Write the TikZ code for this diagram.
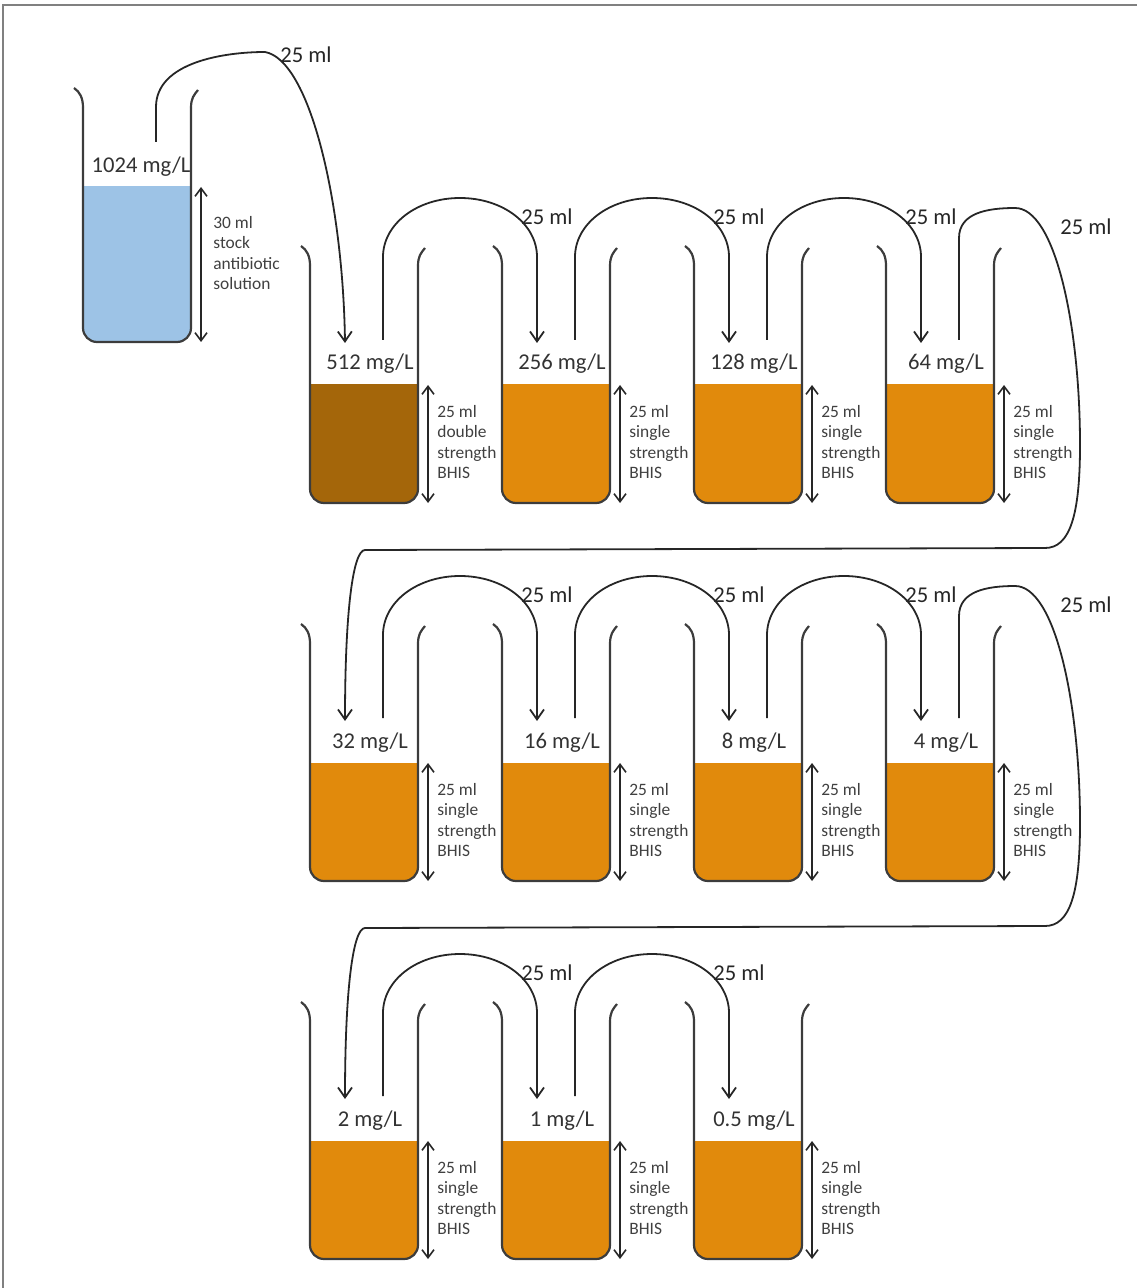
\documentclass[tikz,border=0pt]{standalone}
\usepackage{fontspec}
\setmainfont{Carlito}
\usetikzlibrary{arrows.meta,calc}
\definecolor{stockblue}{RGB}{157,195,230}
\definecolor{brothbrown}{RGB}{164,102,10}
\definecolor{brothorange}{RGB}{225,138,12}
\definecolor{glass}{RGB}{60,60,60}
\definecolor{framegray}{RGB}{128,128,128}
\tikzset{
  glasswall/.style={draw=glass,line width=1.1pt,rounded corners=7pt},
  glasslip/.style={draw=glass,line width=1.1pt},
  pipe/.style={draw=black!85,line width=0.9pt},
  drop/.style={pipe,-{Straight Barb[length=5pt,width=7pt]}},
  vol/.style={draw=black!85,line width=0.8pt,{Straight Barb[length=4pt,width=6pt]}-{Straight Barb[length=4pt,width=6pt]}},
  conc/.style={font=\fontsize{11.3}{13}\selectfont,text=black!80,anchor=base,inner sep=0pt},
  amount/.style={font=\fontsize{11.3}{13}\selectfont,text=black!85,inner sep=0pt},
  recipe/.style={font=\fontsize{8.7}{10.25}\selectfont,text=black!75,align=left,anchor=north west,inner sep=0pt}
}
% beaker: name, left wall, wall top, liquid top, bottom, colour
\newcommand{\beaker}[6]{%
  \begin{scope}
    \clip (#2-2,#4) rectangle (#2+110,#5+2);
    \fill[#6,rounded corners=7pt] (#2,#3) -- (#2,#5) -- (#2+108,#5) -- (#2+108,#3) -- cycle;
  \end{scope}
  \draw[glasswall] (#2,#3) -- (#2,#5) -- (#2+108,#5) -- (#2+108,#3);
  \draw[glasslip] (#2-9,#3-20) .. controls +(6,4) and +(0,-10) .. (#2,#3);
  \draw[glasslip] (#2+108,#3) .. controls +(0,-10) and +(-4,5) .. (#2+115,#3-18);
  \coordinate (#1-tube) at (#2+73,#4-45);
  \coordinate (#1-drop) at (#2+35,#4-42);
  \draw[vol] (#2+118,#4) -- (#2+118,#5);
}
\begin{document}
\begin{tikzpicture}[x=0.5pt,y=-0.5pt]
\useasboundingbox (0,0) rectangle (1137,1288);
\draw[framegray,line width=1.2pt] (3,1288) -- (3,5) -- (1137,5);

% stock solution
\beaker{s}{83}{108}{187}{342}{stockblue}
\node[conc] (c-s) at (141,173) {1024 mg/L};
\node[recipe] (r-s) at (213,216) {30 ml\\stock\\antibiotic\\solution};

% dilution series
\foreach \nm/\col/\row/\conc/\liq/\kind in {b1/0/0/512/brothbrown/double,
    b2/1/0/256/brothorange/single, b3/2/0/128/brothorange/single, b4/3/0/64/brothorange/single,
    b5/0/1/32/brothorange/single, b6/1/1/16/brothorange/single, b7/2/1/8/brothorange/single,
    b8/3/1/4/brothorange/single, b9/0/2/2/brothorange/single, b10/1/2/1/brothorange/single,
    b11/2/2/0.5/brothorange/single} {
  \pgfmathsetmacro\xl{310+192*\col}
  \pgfmathsetmacro\yt{266+378*\row}
  \pgfmathsetmacro\yl{385+378*\row}
  \pgfmathsetmacro\yb{503+378*\row}
  \beaker{\nm}{\xl}{\yt}{\yl}{\yb}{\liq}
  \node[conc] (c-\nm) at (\xl+60,\yl-15) {\conc\ mg/L};
  \node[recipe] (r-\nm) at (\xl+127,\yl+20) {25 ml\\\kind\\strength\\BHIS};
}

% transfers
\draw[drop] (s-tube) -- ++(0,-35) .. controls +(0,-45) and +(-40,0) .. (265,52)
  .. controls +(45,8) and +(-2,-140) .. (b1-drop);
\node[amount] (v-s) at (306,55) {25 ml};
\foreach \a/\b in {b1/b2,b2/b3,b3/b4,b5/b6,b6/b7,b7/b8,b9/b10,b10/b11} {
  \draw[drop] (\a-tube) -- ++(0,-83) .. controls +(0,-33) and +(-43,0) .. ++(77,-59)
    .. controls +(43,0) and +(0,-33) .. ++(77,59) -- (\b-drop);
  \node[amount] (v-\a) at ($(\a-tube)+(164,-123)$) {25 ml};
}
\foreach \a/\b/\r in {b4/b5/0,b8/b9/1} {
  \draw[drop] (\a-tube) -- ++(0,-102) .. controls +(0,-25) and +(-28,0) .. (1015,208+378*\r)
    .. controls +(40,0) and +(0,-120) .. (1080,445+378*\r)
    .. controls +(0,70) and +(25,0) .. (1045,548+378*\r) -- (365,550+378*\r)
    .. controls +(-12,0) and +(0,-110) .. (\b-drop);
  \node[amount] (v-\a) at (1086,227+378*\r) {25 ml};
}
\end{tikzpicture}
\end{document}
